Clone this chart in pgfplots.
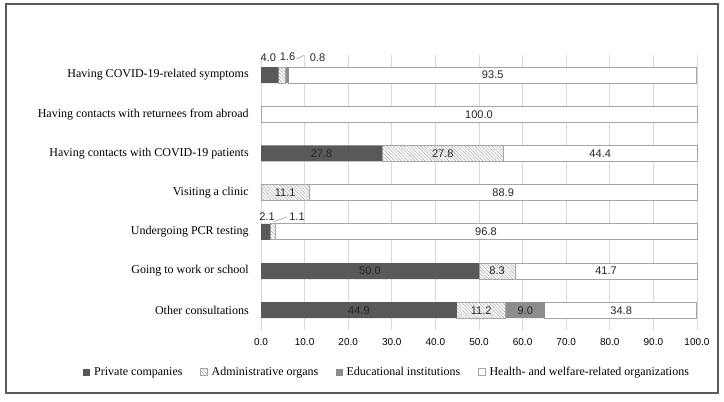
\documentclass[border=0pt]{standalone}
\usepackage{fontspec}
\setmainfont{Liberation Serif}
\newfontfamily\sansf{Liberation Sans}
\usepackage{pgfplots}
\pgfplotsset{compat=1.18}
\usetikzlibrary{patterns.meta}

\definecolor{privc}{HTML}{595959}
\definecolor{educ}{HTML}{8C8C8C}
\definecolor{hatchc}{HTML}{A3A3A3}
\definecolor{edgec}{HTML}{A6A6A6}
\definecolor{gridc}{HTML}{D9D9D9}
\definecolor{framec}{HTML}{5A5A5A}
\tikzset{lab/.style={font=\sansf\fontsize{8.3}{9}\selectfont, inner sep=0pt, text=black!85}}
\pgfplotsset{frame/.style={
  at={(195.75pt,-41.55pt)}, anchor=north west,
  scale only axis, width=327pt, height=205.8pt,
  xmin=0, xmax=100, ymin=-0.5, ymax=6.5, y dir=reverse, clip=false}}

\begin{document}
\begin{tikzpicture}
% 1 px of the reference = 0.75pt
\useasboundingbox (0,0) rectangle (543pt,-300.75pt);
\draw[framec, line width=1.1pt] (4.5pt,-3pt) rectangle (538.5pt,-294.75pt);

\begin{axis}[
  frame,
  xbar stacked, bar width=12pt,
  xtick={0,10,...,100}, ytick={0,...,6},
  yticklabels={Having COVID-19-related symptoms,
               Having contacts with returnees from abroad,
               Having contacts with COVID-19 patients,
               Visiting a clinic,
               Undergoing PCR testing,
               Going to work or school,
               Other consultations},
  xticklabel style={font=\sansf\fontsize{7.5}{8}\selectfont,
    /pgf/number format/fixed, /pgf/number format/fixed zerofill,
    /pgf/number format/precision=1, /pgf/number format/assume math mode=true,
    anchor=center, inner sep=0pt, yshift=-9.3pt},
  yticklabel style={font=\fontsize{9}{10}\selectfont, anchor=east, inner sep=0pt, xshift=-9pt},
  major tick length=0pt,
  axis line style={draw=none},
  xmajorgrids, major grid style={gridc, line width=0.75pt},
  legend style={at={(axis description cs:0.29,-0.155)}, anchor=center,
    draw=none, fill=none, inner sep=0pt, legend columns=-1,
    font=\fontsize{9}{10}\selectfont,
    /tikz/every odd column/.append style={column sep=1pt},
    /tikz/every even column/.append style={column sep=11pt}},
  legend image code/.code={\path[#1] (0pt,-2.6pt) rectangle (5.2pt,2.6pt);},
]
% Private companies
\addplot[fill=privc, draw=none] coordinates {
  (4.0,0) (0,1) (27.8,2) (0,3) (2.1,4) (50.0,5) (44.9,6)};
\addlegendentry{Private companies}
% Administrative organs
\addplot[preaction={fill=white}, pattern={Lines[angle=-45,distance=1.8pt,line width=0.35pt]},
  pattern color=hatchc, draw=edgec, line width=0.6pt] coordinates {
  (1.6,0) (0,1) (27.8,2) (11.1,3) (1.1,4) (8.3,5) (11.2,6)};
\addlegendentry{Administrative organs}
% Educational institutions
\addplot[fill=educ, draw=none] coordinates {
  (0.8,0) (0,1) (0,2) (0,3) (0,4) (0,5) (9.0,6)};
\addlegendentry{Educational institutions}
% Health- and welfare-related organizations
\addplot[fill=white, draw=edgec, line width=0.75pt] coordinates {
  (93.5,0) (100,1) (44.4,2) (88.9,3) (96.8,4) (41.7,5) (34.8,6)};
\addlegendentry{Health- and welfare-related organizations}
\end{axis}

% value labels, in a second axis of the same size so they lie on top
\begin{axis}[frame, hide axis]
\node[lab] at (axis cs:53.15,0) {93.5};
\node[lab] at (axis cs:50,1) {100.0};
\node[lab] at (axis cs:13.9,2) {27.8};
\node[lab] at (axis cs:41.7,2) {27.8};
\node[lab] at (axis cs:77.8,2) {44.4};
\node[lab] at (axis cs:5.55,3) {11.1};
\node[lab] at (axis cs:55.55,3) {88.9};
\node[lab] at (axis cs:51.6,4) {96.8};
\node[lab] at (axis cs:25,5) {50.0};
\node[lab] at (axis cs:54.15,5) {8.3};
\node[lab] at (axis cs:79.15,5) {41.7};
\node[lab] at (axis cs:22.45,6) {44.9};
\node[lab] at (axis cs:50.5,6) {11.2};
\node[lab] at (axis cs:60.6,6) {9.0};
\node[lab] at (axis cs:82.6,6) {34.8};
% small values set above the bars
\node[lab] at (axis cs:1.68,-0.44) {4.0};
\node[lab] at (axis cs:6.08,-0.46) {1.6};
\node[lab] at (axis cs:12.96,-0.44) {0.8};
\draw[edgec, line width=0.5pt] (axis cs:8.14,-0.41) -- (axis cs:9.86,-0.50);
\node[lab] at (axis cs:1.38,3.61) {2.1};
\node[lab] at (axis cs:8.26,3.61) {1.1};
\draw[edgec, line width=0.5pt] (axis cs:2.75,3.75) -- (axis cs:5.96,3.62);
\end{axis}
\end{tikzpicture}
\end{document}
